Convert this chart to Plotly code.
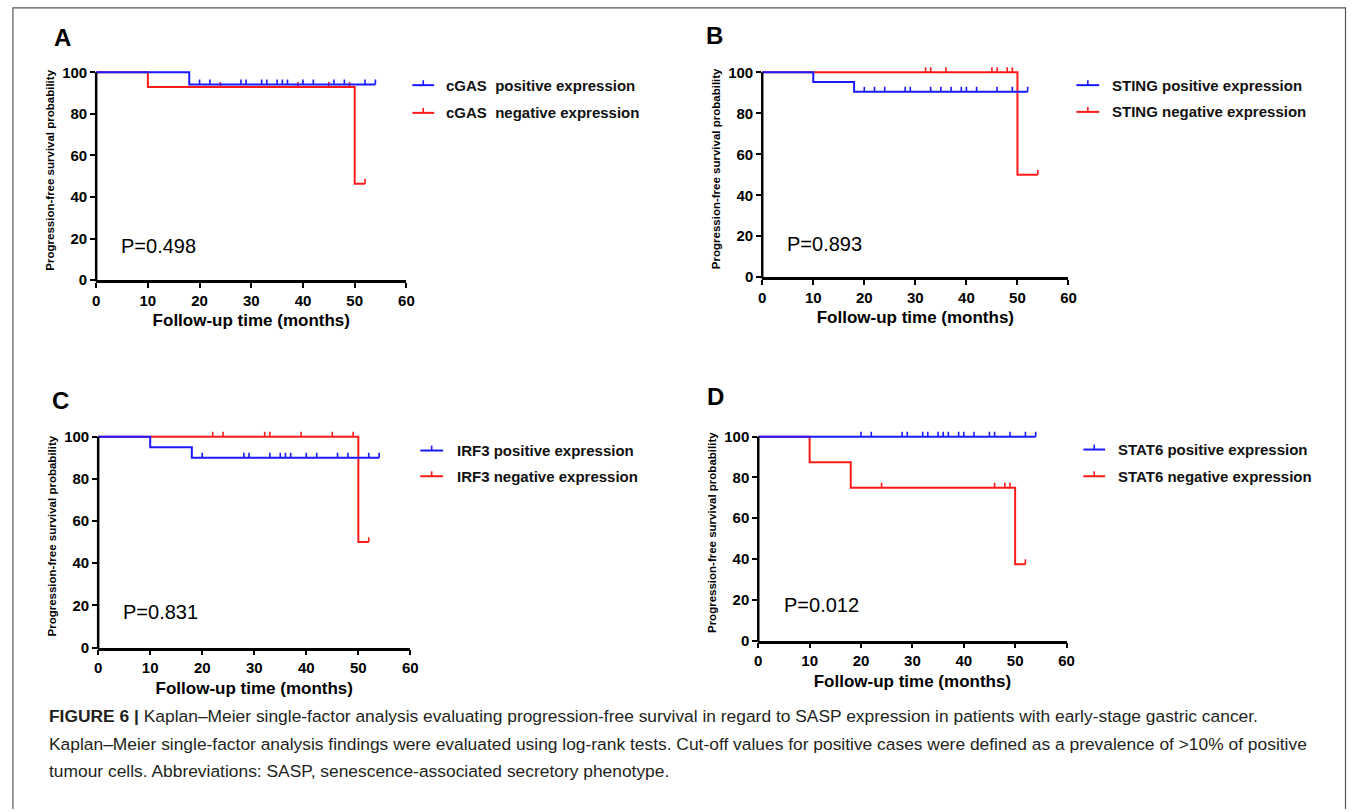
import plotly.graph_objects as go

W, H = 1355, 812
FONT = "Liberation Sans, Arial, sans-serif"

# ---------------- data ----------------
panel_letters = ["A", "B", "C", "D"]
gene_names = ["cGAS", "STING", "IRF3", "STAT6"]
gene_sep = ["\u00a0 ", " ", " ", " "]
p_values = ["P=0.498", "P=0.893", "P=0.831", "P=0.012"]
x_ticks = [0, 10, 20, 30, 40, 50, 60]
y_ticks = [0, 20, 40, 60, 80, 100]
x_title = "Follow-up time (months)"
y_title = "Progression-free survival probability"

# cGAS
cgas_pos_times = [0, 18]
cgas_pos_surv = [100, 94.1]
cgas_pos_end = 54
cgas_pos_cens = [20, 22, 28, 29, 32, 33, 35, 36, 37, 40, 42, 46, 48, 52, 54]
cgas_neg_times = [0, 10, 50]
cgas_neg_surv = [100, 92.9, 46.4]
cgas_neg_end = 52
cgas_neg_cens = [24, 39, 45, 49, 52]

# STING
sting_pos_times = [0, 10, 18]
sting_pos_surv = [100, 95.2, 90.5]
sting_pos_end = 52
sting_pos_cens = [20, 22, 24, 28, 29, 33, 35, 37, 39, 40, 42, 46, 49, 52]
sting_neg_times = [0, 50]
sting_neg_surv = [100, 50]
sting_neg_end = 54
sting_neg_cens = [32, 33, 36, 45, 46, 48, 49, 54]

# IRF3
irf3_pos_times = [0, 10, 18]
irf3_pos_surv = [100, 95, 90]
irf3_pos_end = 54
irf3_pos_cens = [20, 28, 29, 33, 35, 36, 37, 40, 42, 46, 48, 52, 54]
irf3_neg_times = [0, 50]
irf3_neg_surv = [100, 50]
irf3_neg_end = 52
irf3_neg_cens = [22, 24, 32, 33, 39, 45, 49, 52]

# STAT6
stat6_pos_times = [0]
stat6_pos_surv = [100]
stat6_pos_end = 54
stat6_pos_cens = [20, 22, 28, 29, 32, 33, 35, 36, 37, 39, 40, 42, 45, 46, 49, 52, 54]
stat6_neg_times = [0, 10, 18, 50]
stat6_neg_surv = [100, 87.5, 75, 37.5]
stat6_neg_end = 52
stat6_neg_cens = [24, 46, 48, 49, 52]

series = [
    ((cgas_pos_times, cgas_pos_surv, cgas_pos_end, cgas_pos_cens),
     (cgas_neg_times, cgas_neg_surv, cgas_neg_end, cgas_neg_cens)),
    ((sting_pos_times, sting_pos_surv, sting_pos_end, sting_pos_cens),
     (sting_neg_times, sting_neg_surv, sting_neg_end, sting_neg_cens)),
    ((irf3_pos_times, irf3_pos_surv, irf3_pos_end, irf3_pos_cens),
     (irf3_neg_times, irf3_neg_surv, irf3_neg_end, irf3_neg_cens)),
    ((stat6_pos_times, stat6_pos_surv, stat6_pos_end, stat6_pos_cens),
     (stat6_neg_times, stat6_neg_surv, stat6_neg_end, stat6_neg_cens)),
]

caption_lines = [
    "<b>FIGURE 6 |</b> Kaplan\u2013Meier single-factor analysis evaluating progression-free survival in regard to SASP expression in patients with early-stage gastric cancer.",
    "Kaplan\u2013Meier single-factor analysis findings were evaluated using log-rank tests. Cut-off values for positive cases were defined as a prevalence of &gt;10% of positive",
    "tumour cells. Abbreviations: SASP, senescence-associated secretory phenotype.",
]

# ---------------- layout geometry (pixels) ----------------
# x pixel of 0 month, x pixel of 60 months, y pixel of 0 %, y pixel of 100 %
geom = [
    dict(x0=93, x60=406, y0=283, y100=73, letter=(59, 38), p=(116, 248),
         leg_x=(412, 434), leg_y=(86, 114), leg_tx=444),
    dict(x0=765, x60=1074, y0=280, y100=73, letter=(717, 36), p=(788, 246),
         leg_x=(1082, 1105), leg_y=(86, 113), leg_tx=1116),
    dict(x0=95, x60=410, y0=654, y100=441, letter=(57, 404), p=(118, 618),
         leg_x=(420, 443), leg_y=(455, 481), leg_tx=455),
    dict(x0=761, x60=1072, y0=647, y100=441, letter=(718, 400), p=(785, 611),
         leg_x=(1089, 1111), leg_y=(454, 481), leg_tx=1122),
]
CAPTION_X = 43
CAPTION_Y = [723, 751, 779]
PAD = 12  # pixels above 100 % kept for censor ticks
BLUE = "#1a1aff"
RED = "#ff1a1a"


def px(xp):
    return xp / W


def py(yp):
    return 1 - yp / H


def surv_at(times, surv, t):
    v = surv[0]
    for ti, si in zip(times, surv):
        if ti <= t:
            v = si
    return v


fig = go.Figure()
shapes = []
annotations = []

for i, g in enumerate(geom):
    n = i + 1
    xa = "x" if n == 1 else f"x{n}"
    ya = "y" if n == 1 else f"y{n}"
    span = g["y0"] - g["y100"]
    ytop = 100 * (span + PAD) / span
    tick_units = 5.0 * 100 / span

    # curves: negative (red) first, positive (blue) on top
    for (times, surv, end, cens), color in ((series[i][1], RED), (series[i][0], BLUE)):
        xs = list(times) + [end]
        ys = list(surv) + [surv[-1]]
        fig.add_trace(go.Scatter(x=xs, y=ys, mode="lines", line=dict(color=color, width=2, shape="hv"),
                                 xaxis=xa, yaxis=ya, showlegend=False, hoverinfo="skip"))
        cx, cy = [], []
        for t in cens:
            s = surv_at(times, surv, t)
            cx += [t, t, None]
            cy += [s, s + tick_units, None]
        fig.add_trace(go.Scatter(x=cx, y=cy, mode="lines", line=dict(color=color, width=1.6),
                                 xaxis=xa, yaxis=ya, showlegend=False, hoverinfo="skip"))

    xkey = "xaxis" if n == 1 else f"xaxis{n}"
    ykey = "yaxis" if n == 1 else f"yaxis{n}"
    fig.update_layout(**{
        xkey: dict(domain=[px(g["x0"]), px(g["x60"])], range=[0, 60], anchor=ya,
                   tickvals=x_ticks, ticks="outside", ticklen=5, tickwidth=2, tickcolor="black",
                   showline=True, linewidth=2.5, linecolor="black", showgrid=False, zeroline=False,
                   tickfont=dict(family=FONT, size=15, color="black", weight="bold"),
                   title=dict(text=x_title, standoff=7,
                              font=dict(family=FONT, size=17, color="black", weight="bold"))),
        ykey: dict(domain=[py(g["y0"]), py(g["y100"] - PAD)], range=[0, ytop], anchor=xa,
                   tickvals=y_ticks, ticks="outside", ticklen=5, tickwidth=2, tickcolor="black",
                   showline=False, showgrid=False, zeroline=False,
                   tickfont=dict(family=FONT, size=15, color="black", weight="bold"),
                   title=dict(text=y_title, standoff=5,
                              font=dict(family=FONT, size=11.5, color="black", weight="bold"))),
    })
    # y axis line (only from 0 to 100)
    shapes.append(dict(type="line", xref="paper", yref="paper",
                       x0=px(g["x0"]), x1=px(g["x0"]), y0=py(g["y0"] + 1.2), y1=py(g["y100"]),
                       line=dict(color="black", width=2.5)))

    # panel letter
    annotations.append(dict(text=f"<b>{panel_letters[i]}</b>", xref="paper", yref="paper",
                            x=px(g["letter"][0]), y=py(g["letter"][1]), xanchor="center", yanchor="middle",
                            showarrow=False, font=dict(family=FONT, size=24, color="black")))
    # p-value
    annotations.append(dict(text=p_values[i], xref="paper", yref="paper",
                            x=px(g["p"][0]), y=py(g["p"][1]), xanchor="left", yanchor="middle",
                            showarrow=False, font=dict(family=FONT, size=20, color="black")))
    # legend
    for k, (label, color) in enumerate((("positive", BLUE), ("negative", RED))):
        ly = g["leg_y"][k]
        lx0, lx1 = g["leg_x"]
        shapes.append(dict(type="line", xref="paper", yref="paper", x0=px(lx0), x1=px(lx1),
                           y0=py(ly), y1=py(ly), line=dict(color=color, width=2)))
        shapes.append(dict(type="line", xref="paper", yref="paper", x0=px((lx0 + lx1) / 2),
                           x1=px((lx0 + lx1) / 2), y0=py(ly), y1=py(ly - 5), line=dict(color=color, width=1.6)))
        annotations.append(dict(text=f"<b>{gene_names[i]}{gene_sep[i]}{label} expression</b>",
                                xref="paper", yref="paper", x=px(g["leg_tx"]), y=py(ly),
                                xanchor="left", yanchor="middle", showarrow=False,
                                font=dict(family=FONT, size=15, color="#111111")))

# caption
for line, cy in zip(caption_lines, CAPTION_Y):
    annotations.append(dict(text=line, xref="paper", yref="paper", x=px(CAPTION_X), y=py(cy),
                            xanchor="left", yanchor="middle", showarrow=False,
                            font=dict(family=FONT, size=17.4, color="#231f20")))

# outer frame (top, left, right)
shapes.append(dict(type="path", xref="paper", yref="paper",
                   path=f"M {px(9)} {py(H + 5)} L {px(9)} {py(8)} L {px(1353.5)} {py(8)} L {px(1353.5)} {py(H + 5)}",
                   line=dict(color="#555555", width=1.2)))

fig.update_layout(width=W, height=H, margin=dict(l=0, r=0, t=0, b=0),
                  paper_bgcolor="white", plot_bgcolor="white", showlegend=False,
                  shapes=shapes, annotations=annotations)

page_fix = (
    "var s=document.documentElement.style, b=document.body.style;"
    "s.margin='0';s.padding='0';s.overflow='hidden';"
    "b.margin='0';b.padding='0';b.overflow='hidden';"
)

fig.write_html("out.html", config={"displayModeBar": False}, post_script=page_fix)
